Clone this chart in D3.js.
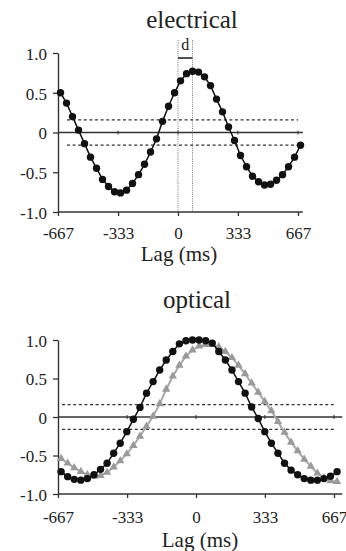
<!DOCTYPE html>
<html>
<head>
<meta charset="utf-8">
<script src="https://cdn.jsdelivr.net/npm/d3@7"></script>
<style>
  body { margin: 0; background: #fff; }
  svg { display: block; }
  text { font-family: "Liberation Serif", "Times New Roman", serif; fill: #222; }
</style>
</head>
<body>
<div id="chart"></div>
<script>
// ---- data ----
var xTicks = [-667, -333, 0, 333, 667];
var yTicks = [1, 0.5, 0, -0.5, -1];
var yTickLabels = ["1.0", "0.5", "0", "-0.5", "-1.0"];
var threshold = 0.16;

// electrical: lag of first point and lag step (ms)
var elecStart = -653, elecStep = 33.35;
var electrical = [0.50, 0.37, 0.20, 0.03, -0.14, -0.31, -0.45, -0.59, -0.68, -0.745,
    -0.76, -0.725, -0.64, -0.53, -0.40, -0.245, -0.08, 0.14, 0.33, 0.50,
    0.65, 0.74, 0.77, 0.76, 0.70, 0.59, 0.42, 0.26, 0.07, -0.10,
    -0.29, -0.43, -0.55, -0.62, -0.66, -0.65, -0.60, -0.53, -0.43, -0.31, -0.16];

// optical: black circles (auto) and grey triangles (cross)
var optStart = -652, optStep = 31.76;
var opticalAuto = [-0.71, -0.775, -0.81, -0.82, -0.80, -0.75, -0.68, -0.60, -0.47, -0.34,
    -0.19, -0.03, 0.125, 0.31, 0.46, 0.61, 0.74, 0.85, 0.95, 0.99,
    1.0, 1.0, 0.99, 0.96, 0.85, 0.74, 0.61, 0.46, 0.31, 0.13,
    -0.02, -0.19, -0.34, -0.47, -0.60, -0.69, -0.75, -0.80, -0.82, -0.82,
    -0.80, -0.77, -0.71];
var opticalCross = [-0.54, -0.60, -0.66, -0.71, -0.75, -0.77, -0.76, -0.72, -0.65, -0.57,
    -0.48, -0.37, -0.25, -0.12, 0.01, 0.17, 0.36, 0.53, 0.67, 0.79,
    0.87, 0.92, 0.94, 0.94, 0.91, 0.85, 0.77, 0.67, 0.56, 0.44,
    0.32, 0.20, 0.08, -0.06, -0.20, -0.33, -0.44, -0.55, -0.64, -0.73,
    -0.79, -0.83, -0.84];

function toPoints(vals, start, step) {
    return vals.map(function (v, i) { return { lag: start + i * step, v: v }; });
}
var elecPts = toPoints(electrical, elecStart, elecStep);
var autoPts = toPoints(opticalAuto, optStart, optStep);
var crossPts = toPoints(opticalCross, optStart, optStep);
var peak = elecPts[d3.maxIndex(elecPts, function (d) { return d.v; })];

var svg = d3.select("#chart").append("svg")
    .attr("width", 346)
    .attr("height", 551);

function drawPanel(o) {
    var x = d3.scaleLinear().domain([-667, 667]).range([o.left, o.right]);
    var y = d3.scaleLinear().domain([-1, 1]).range([o.bottom, o.top]);
    var g = svg.append("g");
    var x0 = x(-667), xEnd = x(o.axisMax);

    // title
    g.append("text")
        .attr("x", o.titleX).attr("y", o.titleY)
        .attr("text-anchor", "middle")
        .style("font-size", "25px")
        .text(o.title);

    // dashed threshold lines
    [threshold, -threshold].forEach(function (t) {
        g.append("line")
            .attr("x1", x0 + o.dashInset).attr("x2", x(667))
            .attr("y1", y(t)).attr("y2", y(t))
            .attr("stroke", "#333").attr("stroke-width", 1.3)
            .attr("stroke-dasharray", "3,2.6");
    });

    // zero line with small ticks
    g.append("line")
        .attr("x1", x0).attr("x2", xEnd)
        .attr("y1", y(0)).attr("y2", y(0))
        .attr("stroke", "#333").attr("stroke-width", 1.3);
    g.selectAll(".zt").data(xTicks.slice(1)).enter().append("line")
        .attr("x1", function (d) { return x(d); }).attr("x2", function (d) { return x(d); })
        .attr("y1", y(0) - 2).attr("y2", y(0) + 2)
        .attr("stroke", "#333").attr("stroke-width", 1);

    if (o.extra) o.extra(g, x, y);

    // y axis
    var yg = g.append("g")
        .attr("transform", "translate(" + x0 + ",0)")
        .call(d3.axisLeft(y).tickValues(yTicks)
            .tickFormat(function (d, i) { return yTickLabels[i]; })
            .tickSize(5).tickPadding(6).tickSizeOuter(0));
    yg.select(".domain").attr("stroke", "#333").attr("stroke-width", 1.4);
    yg.selectAll("line").attr("stroke", "#333").attr("stroke-width", 1.3);
    yg.selectAll("text")
        .attr("dy", "0.38em")
        .style("font-size", "17px")
        .style("font-family", '"Liberation Serif", "Times New Roman", serif')
        .attr("fill", "#222");

    // x axis
    var xg = g.append("g")
        .attr("transform", "translate(0," + y(-1) + ")")
        .call(d3.axisBottom(x).tickValues(xTicks)
            .tickFormat(function (d) { return String(d); })
            .tickSize(4).tickSizeOuter(0));
    xg.select(".domain").remove();
    xg.append("line")
        .attr("x1", x0).attr("x2", xEnd)
        .attr("stroke", "#333").attr("stroke-width", 1.4);
    xg.selectAll(".tick line").attr("stroke", "#333").attr("stroke-width", 1.3);
    xg.selectAll("text")
        .attr("y", o.tickLabelY).attr("dy", null)
        .style("font-size", "17px")
        .style("font-family", '"Liberation Serif", "Times New Roman", serif')
        .attr("fill", "#222");

    g.append("text")
        .attr("x", x(0) + o.labelShift).attr("y", y(-1) + o.labelY)
        .attr("text-anchor", "middle")
        .style("font-size", "21px")
        .text("Lag (ms)");

    var line = d3.line()
        .x(function (d) { return x(d.lag); })
        .y(function (d) { return y(d.v); });

    o.series.forEach(function (s) {
        g.append("path")
            .datum(s.data)
            .attr("d", line)
            .attr("fill", "none")
            .attr("stroke", s.color)
            .attr("stroke-width", s.width);
        if (s.marker === "circle") {
            g.selectAll(null).data(s.data).enter().append("circle")
                .attr("cx", function (d) { return x(d.lag); })
                .attr("cy", function (d) { return y(d.v); })
                .attr("r", 3.7)
                .attr("fill", s.color);
        } else {
            g.selectAll(null).data(s.data).enter().append("path")
                .attr("d", d3.symbol().type(d3.symbolTriangle).size(30))
                .attr("transform", function (d) { return "translate(" + x(d.lag) + "," + y(d.v) + ")"; })
                .attr("fill", s.markColor);
        }
    });
}

drawPanel({
    title: "electrical", titleX: 192, titleY: 28,
    left: 58, right: 298, top: 53, bottom: 212, axisMax: 694,
    dashInset: 9, tickLabelY: 27, labelY: 49, labelShift: 1,
    series: [{ data: elecPts, color: "#111", width: 1.5, marker: "circle" }],
    extra: function (g, x, y) {
        // dotted markers at lag 0 and at the peak lag, bracket labelled d
        [0, peak.lag].forEach(function (l) {
            g.append("line")
                .attr("x1", x(l)).attr("x2", x(l))
                .attr("y1", y(1) - 13).attr("y2", y(-1))
                .attr("stroke", "#555").attr("stroke-width", 0.8)
                .attr("stroke-dasharray", "1,1.2");
        });
        g.append("line")
            .attr("x1", x(0)).attr("x2", x(peak.lag))
            .attr("y1", y(1) + 5).attr("y2", y(1) + 5)
            .attr("stroke", "#222").attr("stroke-width", 1.6);
        g.append("text")
            .attr("x", (x(0) + x(peak.lag)) / 2).attr("y", y(1) - 3)
            .attr("text-anchor", "middle")
            .style("font-size", "16px")
            .text("d");
    }
});

drawPanel({
    title: "optical", titleX: 197, titleY: 308,
    left: 58, right: 334, top: 340, bottom: 494, axisMax: 707,
    dashInset: 4, tickLabelY: 29, labelY: 53, labelShift: 4,
    series: [
        { data: crossPts, color: "#a8a8a8", width: 2, marker: "triangle", markColor: "#9a9a9a" },
        { data: autoPts, color: "#111", width: 1.5, marker: "circle" }
    ]
});
</script>
</body>
</html>
